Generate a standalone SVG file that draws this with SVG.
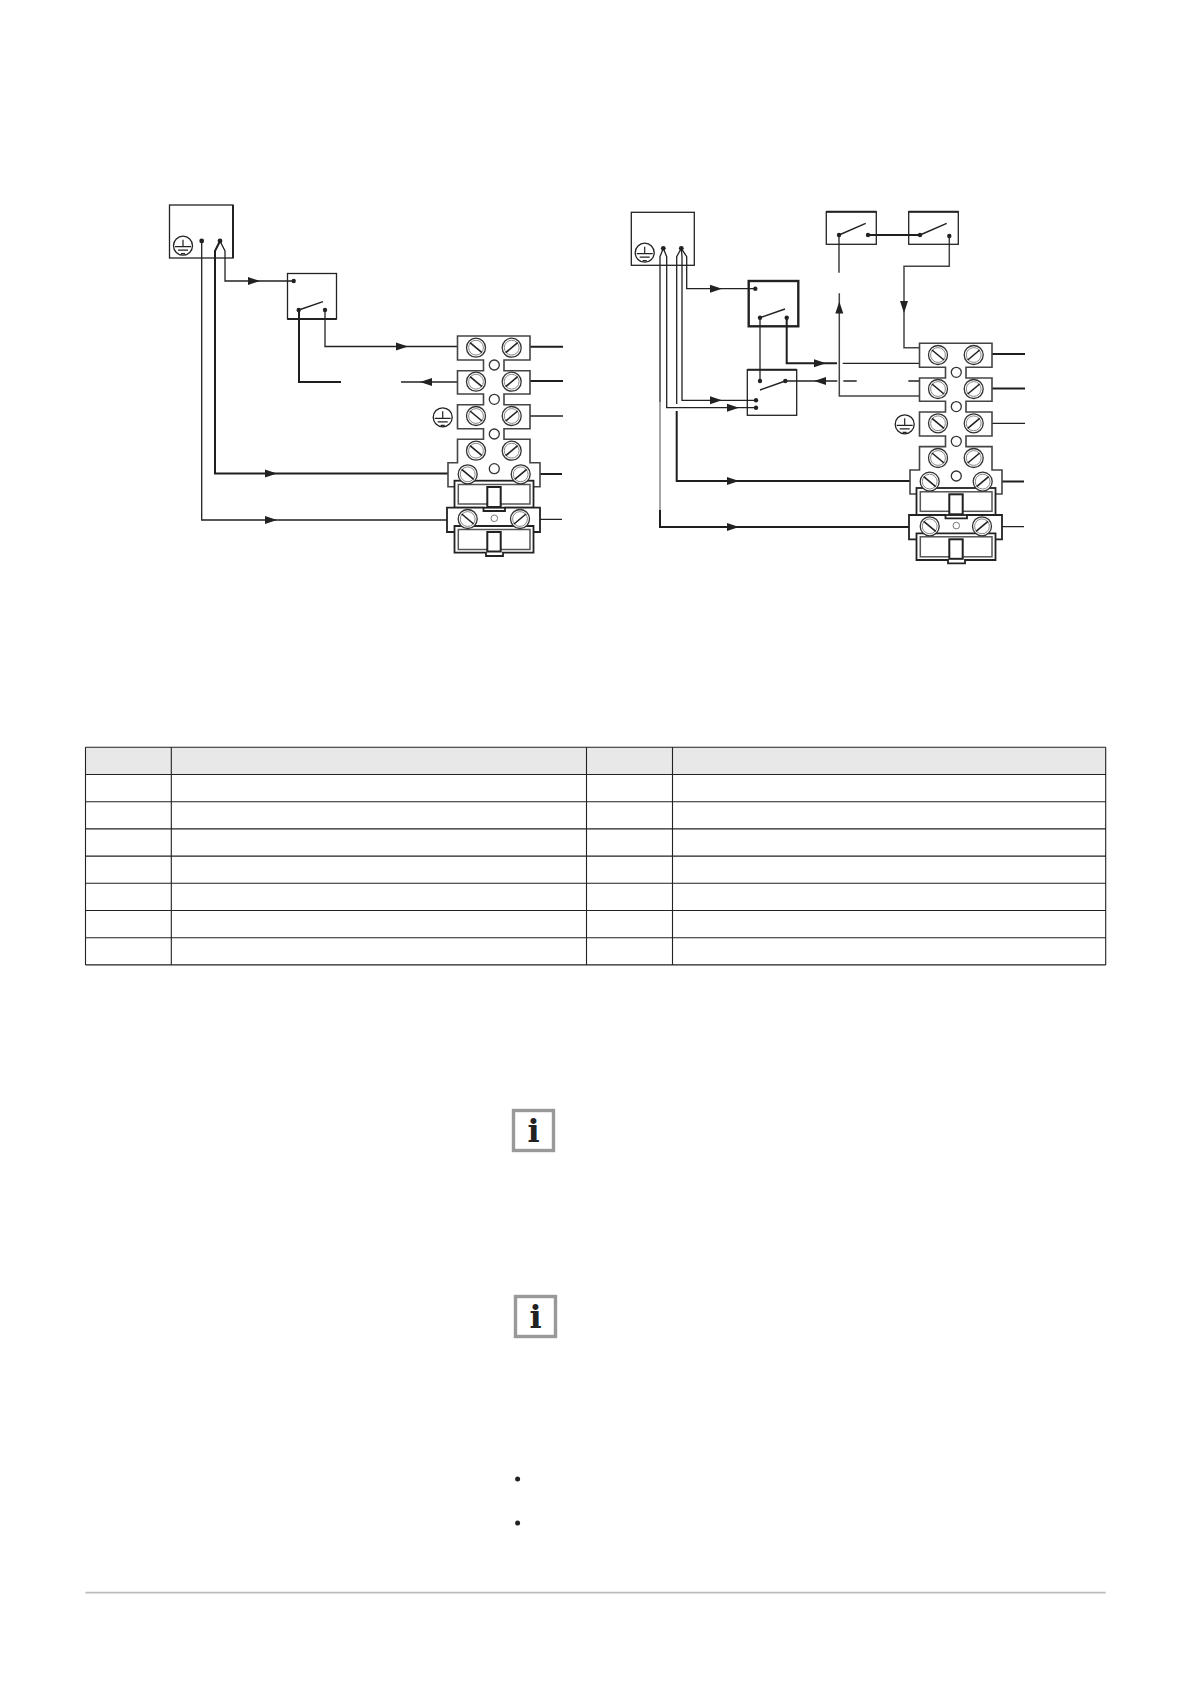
<svg xmlns="http://www.w3.org/2000/svg" width="1191" height="1684" viewBox="0 0 1191 1684">
<style>
.w{fill:none;stroke:#222;stroke-width:1.3}
.t{fill:none;stroke:#1e1e1e;stroke-width:2}
.g{fill:none;stroke:#777;stroke-width:1.3}
.m{fill:none;stroke:#444;stroke-width:1.5}
.box{fill:none;stroke:#222;stroke-width:1.3}
.boxt{fill:none;stroke:#222;stroke-width:2.4}
.d{fill:#222}
.sw{fill:none;stroke:#222;stroke-width:1.4}
.tbl{fill:none;stroke:#222;stroke-width:1.1}
.out{fill:#fff;stroke:#444;stroke-width:1.6}
.outd{fill:#fff;stroke:#222;stroke-width:1.8}
.ring{fill:#fff;stroke:#333;stroke-width:1.3}
.ring2{fill:none;stroke:#888;stroke-width:1}
.info{fill:#fff;stroke:#999;stroke-width:3.4}
.itx{font-family:"DejaVu Serif","Liberation Serif",serif;font-weight:bold;font-size:32px;fill:#222;text-anchor:middle}
</style>
<defs>
<g id="earth"><circle r="9.5" fill="#fff" stroke="#222" stroke-width="1.3"/><path d="M0-6V1M-8 1H8M-5 4.5H5M-2 8H2" fill="none" stroke="#222" stroke-width="1.2"/></g>
<g id="sa"><circle r="9.5" class="ring"/><circle r="7.4" class="ring2"/><path d="M-6-5L6 5" stroke="#222" stroke-width="1.6"/></g>
<g id="sb"><circle r="9.5" class="ring"/><circle r="7.4" class="ring2"/><path d="M-6 5L6-5" stroke="#222" stroke-width="1.6"/></g>
<g id="tb">
<path class="out" d="M457.5 336H530V360H504V370.7H530V394H504V404.7H530V428.7H504V439.3H530V462.7H540V486.7H448V462.7H457.5V439.3H483.5V428.7H457.5V404.7H483.5V394H457.5V370.7H483.5V360H457.5Z"/>
<use href="#sa" x="476" y="347.7"/><use href="#sb" x="511.7" y="347.7"/>
<use href="#sa" x="476" y="381.7"/><use href="#sb" x="511.7" y="381.7"/>
<use href="#sa" x="476" y="416"/><use href="#sb" x="511.7" y="416"/>
<use href="#sa" x="476" y="450.7"/><use href="#sb" x="511.7" y="450.7"/>
<circle cx="494.3" cy="365" r="5" class="ring"/><circle cx="494.3" cy="399.3" r="5" class="ring"/><circle cx="494.3" cy="434" r="5" class="ring"/><circle cx="494.3" cy="468.7" r="5" class="ring"/>
<rect x="454.5" y="480.7" width="79" height="27" class="outd"/>
<rect x="458.3" y="484.5" width="71.7" height="19.5" fill="#fff" stroke="#555" stroke-width="1.5"/>
<rect x="487.3" y="487" width="13.4" height="20" fill="#fff" stroke="#222" stroke-width="2"/>
<use href="#sa" x="467.7" y="474.3"/><use href="#sb" x="520.7" y="474.3"/>
<path class="outd" d="M447 507.7H483.5V511H505V507.7H540V532H447Z"/>
<path class="outd" d="M454.5 526H533.5V552.7H503V556H486V552.7H454.5Z"/>
<rect x="458.3" y="529.5" width="71.7" height="20" fill="#fff" stroke="#555" stroke-width="1.5"/>
<rect x="487.3" y="532" width="13.4" height="19.5" fill="#fff" stroke="#222" stroke-width="2"/>
<use href="#sa" x="467.7" y="519"/><use href="#sb" x="520" y="519"/>
<circle cx="494.3" cy="518.3" r="3.3" fill="#fff" stroke="#777" stroke-width="1"/>
</g>
</defs>
<rect width="1191" height="1684" fill="#fff"/>

<g id="table">
<rect x="85.5" y="747.3" width="1020.2" height="27.2" fill="#e8e8e8"/>
<path class="tbl" d="M85.5 747.3H1105.7M85.5 774.5H1105.7M85.5 801.7H1105.7M85.5 828.9H1105.7M85.5 856.1H1105.7M85.5 883.3H1105.7M85.5 910.5H1105.7M85.5 937.7H1105.7M85.5 964.9H1105.7M85.5 747.3V964.9M171.3 747.3V964.9M586.5 747.3V964.9M672.5 747.3V964.9M1105.7 747.3V964.9"/>
</g>

<g id="connectors">
<path class="w" d="M201.7 241V520H457"/>
<path class="t" d="M220 241L215 251V473.5H448"/>
<path class="w" d="M220 241L225 251V281H293.7"/>
<path class="w" d="M325 310V346.5H458"/>
<path class="t" d="M299 310V382H341"/>
<path class="w" d="M401 382H458"/>
<path class="t" d="M530 346.7H563M530 381H563M540 474H562"/>
<path class="w" d="M530 416H563M540 519.3H562"/>
<path class="d" d="M248 277L260 281L248 285ZM396 342.5L408 346.5L396 350.5ZM265 516L277 520L265 524ZM265 469.5L277 473.5L265 477.5ZM432 378L420 382L432 386Z"/>

<path class="w" d="M663.3 248.3L660 256.7V402"/>
<path class="g" d="M660 402V510"/>
<path class="t" d="M660 510V527H910"/>
<path class="w" d="M663.3 248.3L666.7 256.7V407.7H756"/>
<path class="w" d="M681.3 248.3L676.7 256.7V404M681.3 248.3L682 256.7V400.3H756M681.3 248.3L686.7 256.7V288.7H755.3"/>
<path class="t" d="M676.7 411V481H910"/>
<path class="w" d="M760 317.7V381"/>
<path class="t" d="M786.7 317.7V363.3H837"/>
<path class="w" d="M842.7 363.3H919.3M785.3 381H837.3M843.3 381H856.7M908.3 381H919.3"/>
<path class="m" d="M839.3 293.3V396H919.3"/>
<path class="w" d="M839 235V272.7"/>
<path class="t" d="M868 235H920"/>
<path class="m" d="M949.3 236V266.3H904V347.7H919.3"/>
<path class="d" d="M710 284.7L722 288.7L710 292.7ZM710 396.3L722 400.3L710 404.3ZM727 403.7L739 407.7L727 411.7ZM727 477L739 481L727 485ZM727 523L739 527L727 531ZM814 359.3L826 363.3L814 367.3ZM826 377L814 381L826 385ZM835.3 313.5L839.3 301.5L843.3 313.5ZM900 301L904 313L908 301Z"/>
<path class="t" d="M992 354H1025M992 388.5H1025M1002 481.5H1024"/>
<path class="w" d="M992 423.3H1025M1002 526.7H1024"/>
</g>

<g id="left-source"><rect class="box" x="169.5" y="205" width="63.5" height="53"/><path d="M233 205V258" stroke="#222" stroke-width="2"/><use href="#earth" x="183" y="245.7"/><circle class="d" cx="201.7" cy="241" r="2.4"/><circle class="d" cx="220" cy="241" r="2.4"/></g>
<g id="left-switch"><rect class="box" x="287.5" y="273.5" width="49" height="45.5"/><path d="M287.5 319H336.5" stroke="#222" stroke-width="2"/><circle class="d" cx="293.7" cy="281" r="2.2"/><circle class="d" cx="298.7" cy="310" r="2.2"/><circle class="d" cx="325" cy="310" r="2.2"/><path class="sw" d="M298.7 310L323 301.7"/></g>
<g id="left-terminal"><use href="#tb"/><use href="#earth" x="442.7" y="417.3"/></g>

<g id="right-source"><rect class="box" x="631.3" y="212.3" width="63" height="53"/><use href="#earth" x="644.7" y="252.7"/><circle class="d" cx="663.3" cy="248.3" r="2.4"/><circle class="d" cx="681.3" cy="248.3" r="2.4"/></g>
<g id="right-switch-b"><rect class="boxt" x="748.7" y="281" width="49.6" height="45.3"/><circle class="d" cx="755.3" cy="288.7" r="2.2"/><circle class="d" cx="760" cy="317.7" r="2.2"/><circle class="d" cx="786.7" cy="317.7" r="2.2"/><path class="sw" d="M760 317.7L785 309"/></g>
<g id="right-switch-c"><rect class="box" x="747.3" y="369.7" width="49.4" height="45.6"/><path d="M747.3 369.7H796.7" stroke="#222" stroke-width="2"/><circle class="d" cx="760" cy="381" r="2.2"/><circle class="d" cx="785.3" cy="381" r="2.2"/><circle class="d" cx="756" cy="400.3" r="2.2"/><circle class="d" cx="756" cy="407.7" r="2.2"/><path class="sw" d="M760 390L785.3 381"/></g>
<g id="right-switch-d"><rect class="box" x="826.3" y="211.7" width="50" height="32.6"/><path d="M826.3 211.7H876.3" stroke="#222" stroke-width="2"/><circle class="d" cx="839" cy="235" r="2.2"/><circle class="d" cx="868" cy="235" r="2.2"/><path class="sw" d="M839 235L865.7 223.3"/></g>
<g id="right-switch-e"><rect class="box" x="908.7" y="211.7" width="49.6" height="32.6"/><path d="M908.7 211.7H958.3" stroke="#222" stroke-width="2"/><circle class="d" cx="920" cy="235" r="2.2"/><circle class="d" cx="949.3" cy="236" r="2.2"/><path class="sw" d="M920 235L946.7 223.3"/></g>
<g id="right-terminal"><use href="#tb" transform="translate(462 7.3)"/><use href="#earth" x="904.7" y="424.3"/></g>

<g id="info-1"><rect class="info" x="513.5" y="1110.5" width="40" height="40"/><text class="itx" x="533.5" y="1142">i</text></g>
<g id="info-2"><rect class="info" x="515.5" y="1296.5" width="40" height="40"/><text class="itx" x="535.5" y="1328">i</text></g>
<g id="bullets"><circle class="d" cx="517.6" cy="1479" r="2.5"/><circle class="d" cx="517.6" cy="1523" r="2.5"/></g>
<path id="footer" d="M85.5 1592.6H1105.7" stroke="#bbb" stroke-width="1.6"/>
</svg>
